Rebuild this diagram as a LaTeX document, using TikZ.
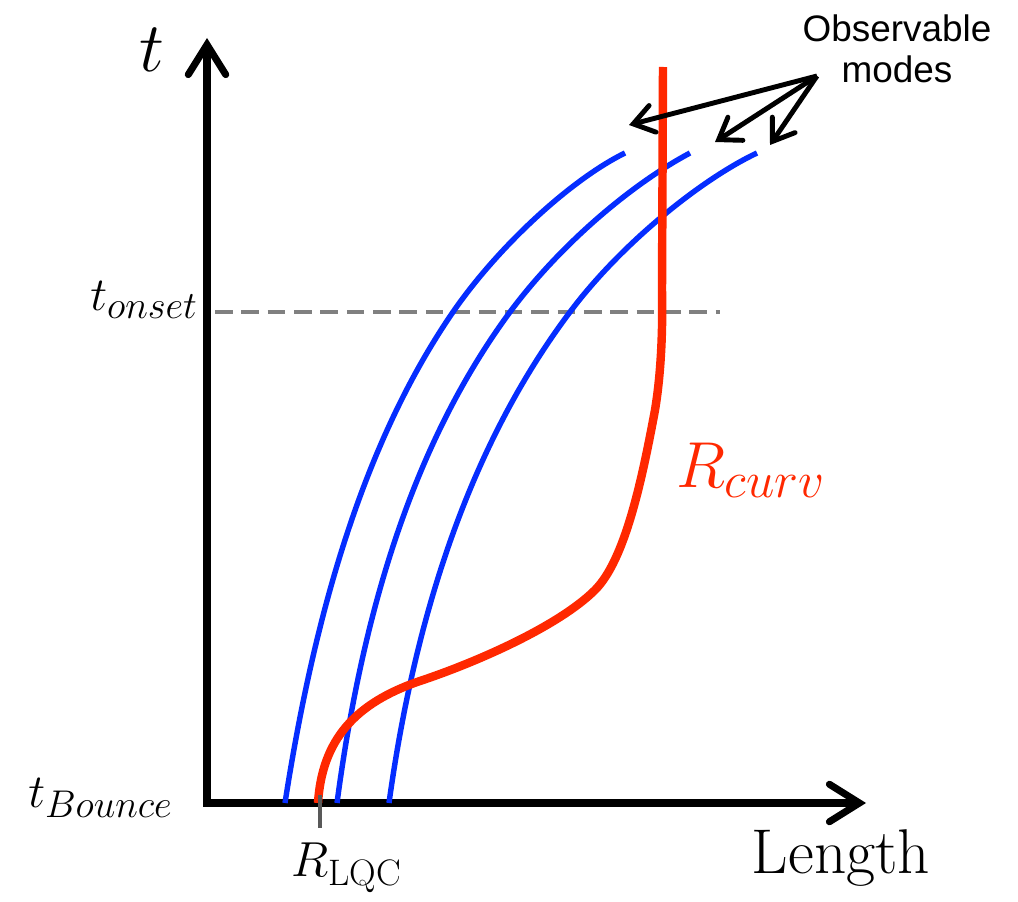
\RequirePackage{fix-cm}
\documentclass[tikz,border=0pt]{standalone}
\usepackage{amsmath, amssymb}
\usepackage{fontspec}
\newfontfamily\notefont{Liberation Sans}
\usetikzlibrary{arrows.meta}

\definecolor{modeblue}{RGB}{5,45,255}
\definecolor{curvred}{RGB}{255,40,0}
\newcommand{\tsub}[1]{$t_{\mbox{\fontsize{22}{22}\selectfont$#1$}}$}

\begin{document}
\begin{tikzpicture}[x=0.02cm, y=-0.02cm,
  axhead/.tip={Straight Barb[length=0.6cm, width=0.75cm, line cap=round]},
  axis/.style={line width=4pt, line join=miter, axhead-axhead},
  mode/.style={line width=3.1pt, modeblue},
  curv/.style={line width=4.8pt, curvred},
  pointer/.style={line width=2.8pt, -{Straight Barb[length=0.4cm, width=0.55cm, line cap=round]}}]
  \useasboundingbox (0,0) rectangle (1018,902);

  % axes
  \coordinate (O) at (207,803);
  \coordinate (ttop) at (207,38);
  \coordinate (xend) at (866,803);
  \draw[axis] (ttop) |- (xend);
  \node (tlab) at (152,50) {\fontsize{40}{40}\selectfont$t$};
  \node (lenlab) at (841,858) {\fontsize{36}{36}\selectfont Length};

  % onset level
  \coordinate (on1) at (215,312);
  \coordinate (on2) at (720,312);
  \draw[gray, line width=2.8pt, dash pattern=on 10pt off 5pt] (on1) -- (on2);
  \node[anchor=east] (tonset) at (204,300) {\fontsize{27}{27}\selectfont\tsub{onset}};
  \node[anchor=east] (tbounce) at (179,798) {\fontsize{27}{27}\selectfont\tsub{Bounce}};

  % modes
  \draw[mode] (285,803) .. controls (315,610) and (365,440) .. (453,312)
    .. controls (497,248) and (570,180) .. (625,153);
  \draw[mode] (337,803) .. controls (362,615) and (412,445) .. (510,312)
    .. controls (559,246) and (630,185) .. (690,153);
  \draw[mode] (389,803) .. controls (415,615) and (470,445) .. (570,312)
    .. controls (620,245) and (700,180) .. (757,153);

  % curvature radius
  \draw[curv] (318,803) .. controls (322,740) and (355,703) .. (420,681)
    .. controls (480,661) and (560,625) .. (595,590)
    .. controls (625,560) and (642,480) .. (655,410)
    .. controls (660,380) and (663,340) .. (662,290) -- (663,67);
  \node[curvred] (rcurv) at (751,470) {\fontsize{37}{37}\selectfont$R_{\mbox{\fontsize{29}{29}\selectfont$curv$}}$};

  % LQC scale
  \coordinate (lqc1) at (320,795);
  \coordinate (lqc2) at (320,828);
  \draw[black!65, line width=2.8pt] (lqc1) -- (lqc2);
  \node (rlqc) at (347,868) {\fontsize{28}{28}\selectfont$R_{\mbox{\fontsize{21}{21}\selectfont LQC}}$};

  % observable modes
  \node[align=center, font=\notefont\fontsize{21}{23}\selectfont] (obs) at (897,49) {Observable\\modes};
  \coordinate (hub) at (817,76);
  \coordinate (m1) at (629,125);
  \coordinate (m2) at (715,142);
  \coordinate (m3) at (770,145);
  \foreach \m in {m1, m2, m3}
    \draw[pointer] (hub) -- (\m);
\end{tikzpicture}
\end{document}
